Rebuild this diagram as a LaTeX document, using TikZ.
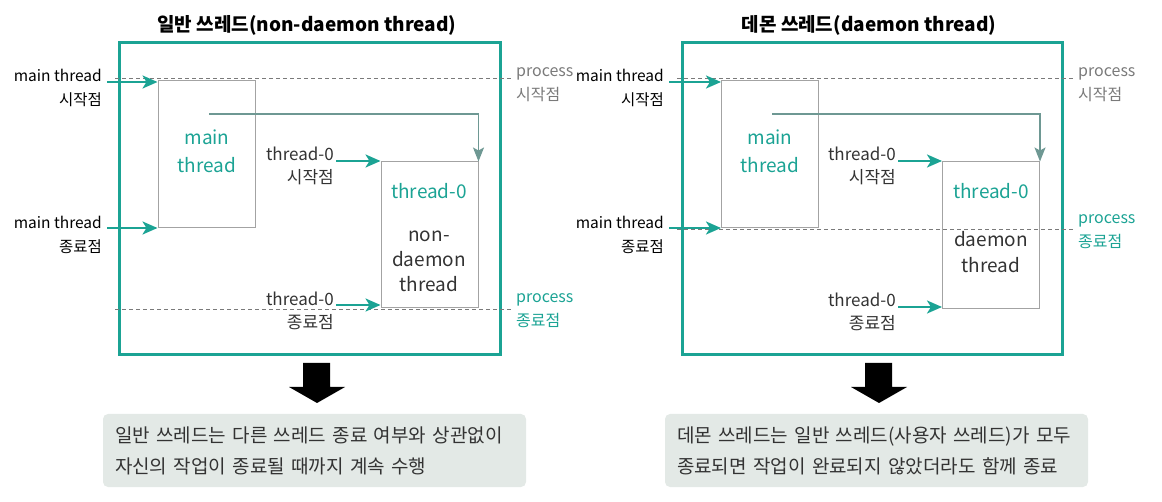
\documentclass[tikz,border=0pt]{standalone}
\usepackage{fontspec}
\setmainfont{Noto Sans CJK KR}
\usetikzlibrary{arrows.meta}
\definecolor{teal0}{HTML}{1BA394}
\definecolor{linegray}{HTML}{A3A3A3}
\definecolor{dashgray}{HTML}{7A7A7A}
\definecolor{spawngray}{HTML}{6E9893}
\definecolor{notefill}{HTML}{E3E9E6}
\definecolor{textgray}{HTML}{333333}

\begin{document}
\begin{tikzpicture}[x=1pt, y=-1pt,
		title/.style={inner sep=0, font=\fontsize{19}{22}\selectfont\bfseries},
		outer/.style={draw=teal0, line width=3pt},
		tbox/.style={draw=linegray, line width=1pt, minimum width=97, inner sep=0},
		intxt/.style={inner sep=0, align=center, font=\fontsize{19}{28}\selectfont},
		lbl/.style={inner sep=0, align=right, anchor=east, font=\fontsize{15.5}{24}\selectfont},
		tlbl/.style={inner sep=0, align=right, anchor=east, text=textgray, font=\fontsize{17}{23}\selectfont},
		plbl/.style={inner sep=0, align=left, anchor=west, font=\fontsize{16}{24}\selectfont},
		dashline/.style={draw=dashgray, line width=1pt, dash pattern=on 4pt off 3pt},
		tarrow/.style={draw=teal0, line width=2.5pt, -{Stealth[length=15pt, width=13pt, inset=4pt]}},
		spawn/.style={draw=spawngray, line width=1.3pt, -{Stealth[length=14pt, width=11pt, inset=3pt]}},
		note/.style={fill=notefill, rounded corners=5pt, minimum width=423, minimum height=73,
			inner sep=12, text width=399, align=left, font=\fontsize{19}{31}\selectfont, text=textgray}]
		\useasboundingbox (0,0) rectangle (1162,502);

		% Draw the non-daemon panel
		\node[title] (titleL) at (307,25) {일반 쓰레드(non-daemon thread)};
		\draw[outer] (119,43) rectangle (500,355);
		\draw[dashline] (115,79) -- (513,79);
		\draw[dashline] (115,310) -- (513,310);

		\node[tbox, minimum height=147] (mainL) at (206.5,154.5) {};
		\node[tbox, minimum height=146] (thrL) at (429.5,235) {};
		\node[intxt, text=teal0] (mainLtxt) at (207,151) {main\\thread};
		\node[intxt, text=teal0] (thrLname) at (429,191) {thread-0};
		\node[intxt, text=textgray, font=\fontsize{19}{25}\selectfont] (thrLtxt) at (429,261) {non-\\daemon\\thread};

		\node[lbl] (msL) at (102,88) {main thread\\시작점};
		\node[lbl] (meL) at (102,235) {main thread\\종료점};
		\node[tlbl] (tsL) at (334,166) {thread-0\\시작점};
		\node[tlbl] (teL) at (334,311) {thread-0\\종료점};
		\node[plbl, text=dashgray] (psL) at (516,85) {process\\시작점};
		\node[plbl, text=teal0] (peL) at (516,311) {process\\종료점};

		% Draw the arrows into the boxes
		\coordinate (msLa) at (107,82);
		\coordinate (meLa) at (107,228);
		\coordinate (tsLa) at (336,161);
		\coordinate (teLa) at (336,305);
		\coordinate (spawnL) at (209,114);
		\draw[tarrow] (msLa) -- (msLa -| mainL.west);
		\draw[tarrow] (meLa) -- (meLa -| mainL.west);
		\draw[tarrow] (tsLa) -- (tsLa -| thrL.west);
		\draw[tarrow] (teLa) -- (teLa -| thrL.west);
		\draw[spawn] (spawnL) -| (thrL.north east);

		\fill (303,363) -- (330,363) -- (330,387) -- (345,387) -- (317,403) -- (289,387) -- (303,387) -- cycle;
		\node[note] (noteL) at (314.5,450.5) {일반 쓰레드는 다른 쓰레드 종료 여부와 상관없이\\자신의 작업이 종료될 때까지 계속 수행};

		% Draw the daemon panel
		\begin{scope}[xshift=562]
		\node[title] (titleR) at (307,25) {데몬 쓰레드(daemon thread)};
		\draw[outer] (120,43) rectangle (500,355);
		\draw[dashline] (115,79) -- (513,79);
		\draw[dashline] (115,230) -- (513,230);

		\node[tbox, minimum height=147] (mainR) at (208,154.5) {};
		\node[tbox, minimum height=147] (thrR) at (429,235.5) {};
		\node[intxt, text=teal0] (mainRtxt) at (208,151) {main\\thread};
		\node[intxt, text=teal0] (thrRname) at (429,191) {thread-0};
		\node[intxt, text=textgray, font=\fontsize{19}{26}\selectfont] (thrRtxt) at (429,252) {daemon\\thread};

		\node[lbl] (msR) at (102,88) {main thread\\시작점};
		\node[lbl] (meR) at (102,235) {main thread\\종료점};
		\node[tlbl] (tsR) at (334,166) {thread-0\\시작점};
		\node[tlbl] (teR) at (334,312) {thread-0\\종료점};
		\node[plbl, text=dashgray] (psR) at (516,85) {process\\시작점};
		\node[plbl, text=teal0] (peR) at (516,232) {process\\종료점};

		\coordinate (msRa) at (107,82);
		\coordinate (meRa) at (107,228);
		\coordinate (tsRa) at (336,161);
		\coordinate (teRa) at (336,307);
		\coordinate (spawnR) at (210,114);
		\draw[tarrow] (msRa) -- (msRa -| mainR.west);
		\draw[tarrow] (meRa) -- (meRa -| mainR.west);
		\draw[tarrow] (tsRa) -- (tsRa -| thrR.west);
		\draw[tarrow] (teRa) -- (teRa -| thrR.west);
		\draw[spawn] (spawnR) -| (thrR.north east);

		\fill (303,363) -- (330,363) -- (330,387) -- (345,387) -- (317,403) -- (289,387) -- (303,387) -- cycle;
		\node[note] (noteR) at (314.5,450.5) {데몬 쓰레드는 일반 쓰레드(사용자 쓰레드)가 모두\\종료되면 작업이 완료되지 않았더라도 함께 종료};
		\end{scope}

	\end{tikzpicture}
\end{document}
